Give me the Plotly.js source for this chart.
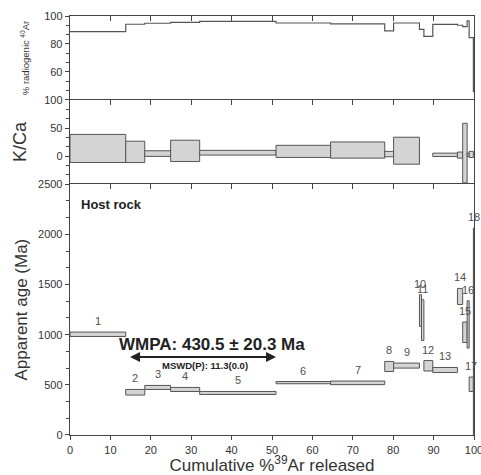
<!DOCTYPE html>
<html>
<head>
<meta charset="utf-8">
<script src="https://cdn.plot.ly/plotly-3.0.1.min.js"></script>
<style>html,body{margin:0;padding:0;background:#fff;}#chart{width:481px;height:475px;}</style>
</head>
<body>
<div id="chart"></div>
<script>
// Step data (cumulative %39Ar boundaries)
const stepNames = ['1','2','3','4','5','6','7','8','9','10','11','12','13','14','15','16','17','18'];
const stepStart = [0, 13.8, 18.5, 24.9, 32.1, 51.0, 64.5, 77.9, 80.1, 86.5, 87.0, 87.6, 89.8, 95.9, 97.2, 98.3, 98.8, 99.85];
const stepEnd   = [13.8, 18.5, 24.9, 32.1, 51.0, 64.5, 77.9, 80.1, 86.5, 87.0, 87.6, 89.8, 95.9, 97.2, 98.3, 98.8, 99.85, 100];
// Apparent age (Ma) and 2-sigma error
const ageVal = [1004, 426, 474, 454, 419, 522, 520, 683, 692, 1240, 1145, 690, 648, 1381, 1024, 1102, 506, 1000];
const ageErr = [22, 28, 20, 20, 15, 11, 18, 50, 25, 158, 203, 52, 25, 80, 102, 236, 72, 1063];
// K/Ca and error
const kcaVal = [13.6, 7.5, 4.5, 9.3, 6.0, 8.4, 10.8, 3.6, 9.6, null, null, null, 2.3, 1.8, 5.4, 2.3, 2.9, null];
const kcaErr = [25, 19, 5, 19, 4.2, 10.8, 14.4, 4.8, 24, null, null, null, 3, 5.4, 53, 3, 5.4, null];
// % radiogenic 40Ar
const radVal = [88.9, 94.1, 94.8, 95.5, 96.1, 95.0, 94.3, 89.3, 95.0, 90.5, 90.5, 85.5, 94.0, 93.4, 92.4, 96.6, 84.5, 46];
// Plateau
const plateauFirst = 1, plateauLast = 4; // steps 2-5
const wmpaText = 'WMPA: 430.5 ± 20.3 Ma';
const mswdText = 'MSWD(P): 11.3(0.0)';

const centers = stepStart.map((s, i) => (s + stepEnd[i]) / 2);
const widths = stepStart.map((s, i) => stepEnd[i] - s);

const boxFill = '#d4d4d4', boxLine = '#555555', axCol = '#444444', txtCol = '#333333';
const FONT = 'Liberation Sans, Arial, sans-serif';

const ageTrace = {
  type: 'bar', x: centers, width: widths,
  base: ageVal.map((v, i) => v - ageErr[i]),
  y: ageErr.map(e => 2 * e),
  xaxis: 'x', yaxis: 'y',
  marker: {color: boxFill, line: {color: boxLine, width: 1}},
  hoverinfo: 'skip', showlegend: false
};
const kcaTrace = {
  type: 'bar', x: centers, width: widths,
  base: kcaVal.map((v, i) => v === null ? null : v - kcaErr[i]),
  y: kcaErr.map(e => e === null ? null : 2 * e),
  xaxis: 'x', yaxis: 'y2',
  marker: {color: boxFill, line: {color: boxLine, width: 1}},
  hoverinfo: 'skip', showlegend: false
};
const radTrace = {
  type: 'scatter', mode: 'lines',
  x: stepStart.concat([stepEnd[stepEnd.length - 1]]),
  y: radVal.concat([radVal[radVal.length - 1]]),
  line: {shape: 'hv', color: '#555555', width: 1.2},
  xaxis: 'x', yaxis: 'y3', hoverinfo: 'skip', showlegend: false
};
// invisible helper traces so the top-edge tick axes of each panel are drawn
const helper = (xa, ya, yv) => ({
  type: 'scatter', mode: 'markers', x: [50], y: [yv], xaxis: xa, yaxis: ya,
  marker: {opacity: 0, size: 1}, hoverinfo: 'skip', showlegend: false
});

const annotations = stepNames.map((n, i) => ({
  x: centers[i], y: ageVal[i] + ageErr[i], xref: 'x', yref: 'y',
  text: n, showarrow: false, yanchor: 'middle', yshift: 11,
  font: {family: FONT, size: 11, color: '#505050'}
}));
const arrowY = 777;
annotations.push({
  x: stepEnd[plateauLast], y: arrowY, ax: stepStart[plateauFirst] + 0.7, ay: arrowY,
  xref: 'x', yref: 'y', axref: 'x', ayref: 'y', text: '', showarrow: true,
  arrowhead: 2, arrowside: 'end+start', arrowsize: 1, arrowwidth: 2, arrowcolor: '#222'
});
annotations.push({x: 35.1, y: 899, xref: 'x', yref: 'y', text: '<b>' + wmpaText + '</b>', showarrow: false,
  font: {family: FONT, size: 17, color: '#222'}});
annotations.push({x: 33.5, y: 693, xref: 'x', yref: 'y', text: '<b>' + mswdText + '</b>', showarrow: false,
  font: {family: FONT, size: 9.5, color: '#222'}});
annotations.push({x: 2.3, y: 2300, xref: 'x', yref: 'y', xanchor: 'left', text: '<b>Host rock</b>', showarrow: false,
  font: {family: FONT, size: 13, color: '#222'}});

const topX = (anchor) => ({
  anchor: anchor, overlaying: 'x', side: 'top', range: [0, 100], dtick: 10, tick0: 0,
  ticks: 'inside', ticklen: 5, tickwidth: 1, tickcolor: axCol,
  showticklabels: false, showline: true, linecolor: axCol, linewidth: 1.3, showgrid: false, zeroline: false
});

const yCommon = {
  showline: true, mirror: true, linecolor: axCol, linewidth: 1.3, showgrid: false, zeroline: false,
  ticks: 'outside', ticklen: 4, tickwidth: 1, tickcolor: axCol,
  tickfont: {family: FONT, size: 11, color: txtCol}, anchor: 'x', ticklabeloverflow: 'allow'
};

const layout = {
  width: 481, height: 475,
  margin: {l: 70, r: 7, t: 16, b: 40},
  paper_bgcolor: '#fff', plot_bgcolor: '#fff',
  barmode: 'overlay', bargap: 0,
  font: {family: FONT, color: txtCol},
  xaxis: {
    anchor: 'y', side: 'bottom', range: [0, 100], dtick: 10, tick0: 0,
    ticks: 'outside', ticklen: 4, tickwidth: 1, tickcolor: axCol,
    tickfont: {family: FONT, size: 11, color: txtCol}, ticklabeloverflow: 'allow',
    showline: true, linecolor: axCol, linewidth: 1.3, showgrid: false, zeroline: false,
    title: {text: 'Cumulative %<sup>39</sup>Ar released', font: {family: FONT, size: 17, color: txtCol}, standoff: 2}
  },
  xaxis2: topX('y'),
  xaxis3: topX('y2'),
  xaxis4: topX('y3'),
  yaxis: Object.assign({}, yCommon, {
    domain: [0, 0.5986], range: [0, 2500], tickmode: 'linear', dtick: 500, tick0: 0,
    minor: {ticks: 'outside', ticklen: 2.5, dtick: 500 / 3, tick0: 0, tickcolor: axCol},
    title: {text: 'Apparent age (Ma)', font: {family: FONT, size: 17, color: txtCol}, standoff: 6}
  }),
  yaxis2: Object.assign({}, yCommon, {
    domain: [0.5986, 0.7997], range: [-50, 100], tickmode: 'array',
    tickvals: [-50, 0, 50, 100], ticktext: ['', '0', '50', '100'],
    minor: {ticks: 'outside', ticklen: 2.5, tickmode: 'linear', dtick: 50 / 3, tick0: -50, tickcolor: axCol},
    title: {text: 'K/Ca', font: {family: FONT, size: 18, color: txtCol}, standoff: 12}
  }),
  yaxis3: Object.assign({}, yCommon, {
    domain: [0.7997, 1], range: [40, 100], tickmode: 'array',
    tickvals: [40, 60, 80, 100], ticktext: ['', '60', '80', '100'],
    minor: {ticks: 'outside', ticklen: 2.5, tickmode: 'linear', dtick: 20 / 3, tick0: 40, tickcolor: axCol},
    title: {text: '% radiogenic <sup>40</sup>Ar', font: {family: FONT, size: 9.5, color: txtCol}, standoff: 12}
  }),
  annotations: annotations
};

Plotly.newPlot('chart', [ageTrace, kcaTrace, radTrace,
  helper('x2', 'y', 1000), helper('x3', 'y2', 0), helper('x4', 'y3', 80)],
  layout, {staticPlot: true, displayModeBar: false});
</script>
</body>
</html>
